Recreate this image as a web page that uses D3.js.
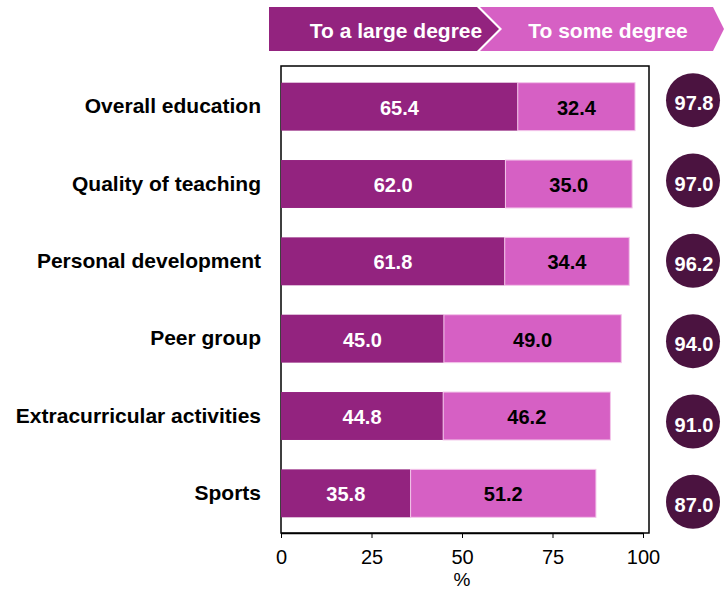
<!DOCTYPE html>
<html>
<head>
<meta charset="utf-8">
<script src="https://cdn.jsdelivr.net/npm/d3@7/dist/d3.min.js"></script>
<style>
  html, body { margin: 0; padding: 0; background: #fff; }
  svg { display: block; font-family: "Liberation Sans", Arial, sans-serif; }
</style>
</head>
<body>
<svg id="chart" width="724" height="590"></svg>
<script>
// Survey aspects and the share of respondents per degree (%)
const categories = [
  "Overall education",
  "Quality of teaching",
  "Personal development",
  "Peer group",
  "Extracurricular activities",
  "Sports"
];
const largeDegree = [65.4, 62.0, 61.8, 45.0, 44.8, 35.8];
const someDegree  = [32.4, 35.0, 34.4, 49.0, 46.2, 51.2];
const totals      = [97.8, 97.0, 96.2, 94.0, 91.0, 87.0];
const seriesNames = ["To a large degree", "To some degree"];
const xTicks = [0, 25, 50, 75, 100];

const colDark = "#93237F";
const colLight = "#D660C4";
const colTotal = "#4B1340";

const svg = d3.select("#chart");

const x = d3.scaleLinear().domain([0, 100]).range([281, 643]);
const y = d3.scaleBand().domain(categories).range([68, 532]).paddingInner(0.38).paddingOuter(0.19);
const yTot = d3.scaleBand().domain(categories).range([60, 542]);

// plot frame
svg.append("rect")
  .attr("x", 281).attr("y", 66)
  .attr("width", 649 - 281).attr("height", 533 - 66)
  .attr("fill", "none").attr("stroke", "#000").attr("stroke-width", 1.5);

// stacked bars
const rows = categories.map((c, i) => ({ c, a: largeDegree[i], b: someDegree[i], t: totals[i] }));

const g = svg.append("g");
g.selectAll("rect.large").data(rows).join("rect")
  .attr("class", "large")
  .attr("x", x(0)).attr("y", d => y(d.c))
  .attr("width", d => x(d.a) - x(0)).attr("height", y.bandwidth())
  .attr("fill", colDark);
g.selectAll("rect.some").data(rows).join("rect")
  .attr("class", "some")
  .attr("x", d => x(d.a)).attr("y", d => y(d.c))
  .attr("width", d => x(d.a + d.b) - x(d.a)).attr("height", y.bandwidth())
  .attr("fill", colLight)
  .attr("stroke", "#F3C6EA").attr("stroke-width", 1);

g.selectAll("text.large").data(rows).join("text")
  .attr("class", "large")
  .attr("x", d => (x(0) + x(d.a)) / 2)
  .attr("y", d => y(d.c) + y.bandwidth() / 2 + 1)
  .attr("text-anchor", "middle").attr("dominant-baseline", "central")
  .attr("font-size", 20).attr("font-weight", "bold").attr("fill", "#fff")
  .text(d => d.a.toFixed(1));
g.selectAll("text.some").data(rows).join("text")
  .attr("class", "some")
  .attr("x", d => (x(d.a) + x(d.a + d.b)) / 2)
  .attr("y", d => y(d.c) + y.bandwidth() / 2 + 1)
  .attr("text-anchor", "middle").attr("dominant-baseline", "central")
  .attr("font-size", 20).attr("font-weight", "bold").attr("fill", "#000")
  .text(d => d.b.toFixed(1));

// category labels
svg.selectAll("text.cat").data(rows).join("text")
  .attr("class", "cat")
  .attr("x", 261)
  .attr("y", d => y(d.c) + y.bandwidth() / 2 - 1)
  .attr("text-anchor", "end").attr("dominant-baseline", "central")
  .attr("font-size", 21).attr("font-weight", "bold").attr("fill", "#000")
  .text(d => d.c);

// total circles
const tot = svg.append("g");
tot.selectAll("circle").data(rows).join("circle")
  .attr("cx", 693)
  .attr("cy", d => yTot(d.c) + yTot.bandwidth() / 2)
  .attr("r", 27)
  .attr("fill", colTotal);
tot.selectAll("text").data(rows).join("text")
  .attr("x", 694)
  .attr("y", d => yTot(d.c) + yTot.bandwidth() / 2 + 3)
  .attr("text-anchor", "middle").attr("dominant-baseline", "central")
  .attr("font-size", 20).attr("font-weight", "bold").attr("fill", "#fff")
  .text(d => d.t.toFixed(1));

// x axis
const axis = svg.append("g")
  .attr("transform", "translate(0,533)")
  .call(d3.axisBottom(x).tickValues(xTicks).tickSize(5).tickPadding(12).tickSizeOuter(0));
axis.select(".domain").attr("stroke", "#000").attr("stroke-width", 1.5);
axis.selectAll(".tick line").attr("stroke", "#000").attr("stroke-width", 1);
axis.selectAll(".tick text")
  .attr("font-size", 20).attr("fill", "#000")
  .attr("font-family", "'Liberation Sans', Arial, sans-serif");

svg.append("text")
  .attr("x", x(50)).attr("y", 586)
  .attr("text-anchor", "middle")
  .attr("font-size", 19).attr("fill", "#000")
  .text("%");

// legend chevrons
const lg = svg.append("g");
const yTop = 7, yBot = 51, yMid = (yTop + yBot) / 2;
lg.append("polygon")
  .attr("points", [[480, yTop], [713, yTop], [724, yMid], [713, yBot], [480, yBot], [502, yMid]].map(p => p.join(",")).join(" "))
  .attr("fill", colLight);
lg.append("polygon")
  .attr("points", [[269, yTop], [477, yTop], [499, yMid], [477, yBot], [269, yBot]].map(p => p.join(",")).join(" "))
  .attr("fill", colDark);
lg.append("text")
  .attr("x", 396).attr("y", yMid + 1)
  .attr("text-anchor", "middle").attr("dominant-baseline", "central")
  .attr("font-size", 21).attr("font-weight", "bold").attr("fill", "#fff")
  .text(seriesNames[0]);
lg.append("text")
  .attr("x", 608).attr("y", yMid + 1)
  .attr("text-anchor", "middle").attr("dominant-baseline", "central")
  .attr("font-size", 21).attr("font-weight", "bold").attr("fill", "#fff")
  .text(seriesNames[1]);
</script>
</body>
</html>
